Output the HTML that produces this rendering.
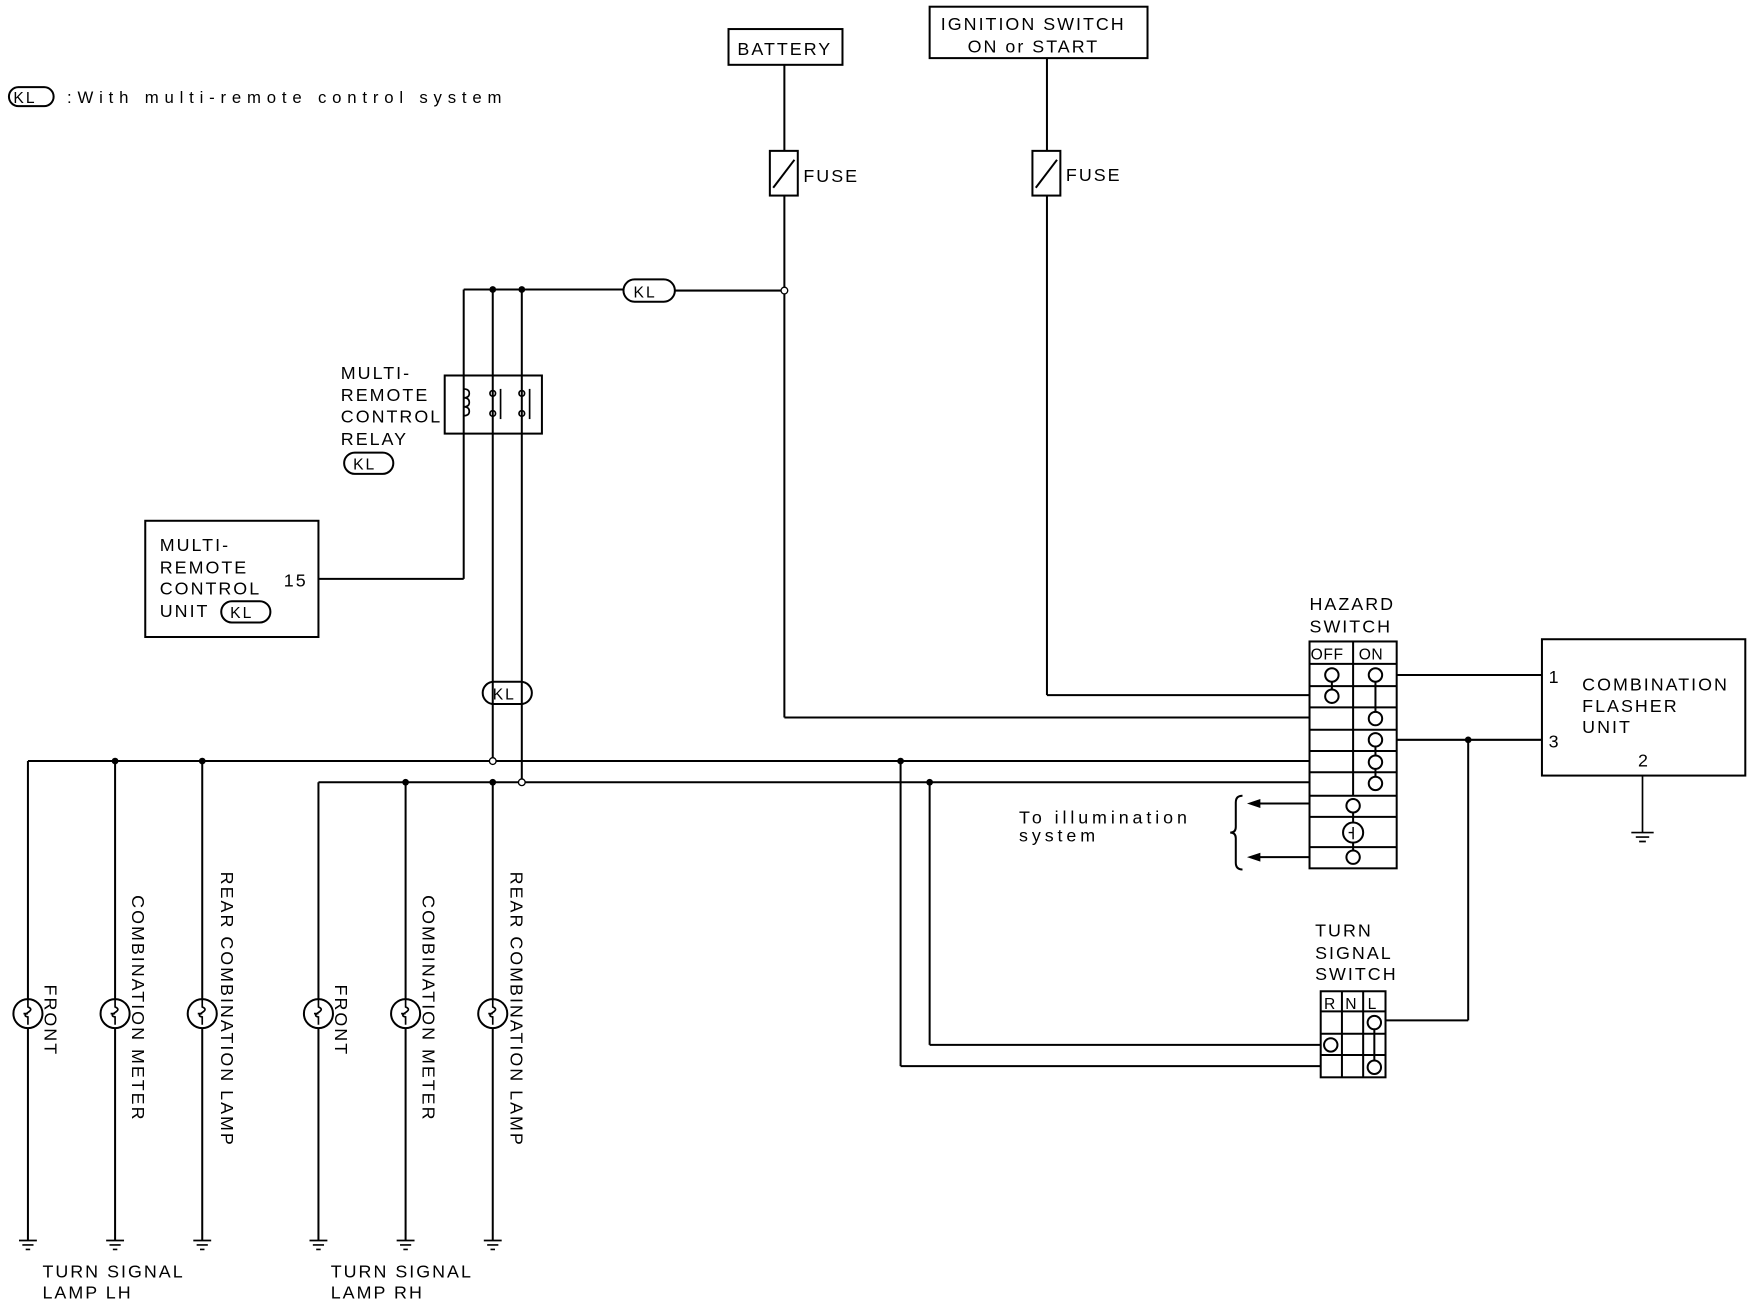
<!DOCTYPE html>
<html><head><meta charset="utf-8"><style>
html,body{margin:0;padding:0;background:#fff;}
svg{display:block}
text{font-family:"Liberation Sans",sans-serif;font-size:16px;fill:#000;letter-spacing:1.8px}
</style></head><body>
<svg width="1752" height="1312" viewBox="0 0 1568 1174" preserveAspectRatio="none" xmlns="http://www.w3.org/2000/svg">
<g fill="none" stroke="#000" stroke-width="1.8">
<rect x="8" y="78" width="40" height="17" rx="8.5"/>
<rect x="652" y="26" width="102" height="32"/>
<line x1="702" y1="58" x2="702" y2="135"/>
<rect x="689" y="135" width="25" height="40"/>
<line x1="692" y1="168" x2="711" y2="143"/>
<line x1="702" y1="175" x2="702" y2="642"/>
<line x1="702" y1="642" x2="1172" y2="642"/>
<line x1="702" y1="260" x2="604" y2="260"/>
<rect x="558" y="250" width="46" height="20" rx="10"/>
<line x1="558" y1="259" x2="415" y2="259"/>
<rect x="832" y="6" width="195" height="46"/>
<line x1="937" y1="52" x2="937" y2="135"/>
<rect x="924" y="135" width="25" height="40"/>
<line x1="927" y1="168" x2="946" y2="143"/>
<line x1="937" y1="175" x2="937" y2="622"/>
<line x1="937" y1="622" x2="1172" y2="622"/>
<rect x="398" y="336" width="87" height="52"/>
<line x1="415" y1="259" x2="415" y2="518"/>
<line x1="415" y1="518" x2="285" y2="518"/>
<line x1="441" y1="259" x2="441" y2="681"/>
<line x1="467" y1="259" x2="467" y2="700"/>
<rect x="308" y="405" width="44" height="19" rx="9.5"/>
<rect x="432" y="610" width="44" height="20" rx="10"/>
<rect x="130" y="466" width="155" height="104"/>
<rect x="198" y="538" width="44" height="19" rx="9.5"/>
<line x1="25" y1="681" x2="1172" y2="681"/>
<line x1="285" y1="700" x2="1172" y2="700"/>
<line x1="25" y1="681" x2="25" y2="1110"/>
<line x1="103" y1="681" x2="103" y2="1110"/>
<line x1="181" y1="681" x2="181" y2="1110"/>
<line x1="285" y1="700" x2="285" y2="1110"/>
<line x1="363" y1="700" x2="363" y2="1110"/>
<line x1="441" y1="700" x2="441" y2="1110"/>
<line x1="806" y1="681" x2="806" y2="954"/>
<line x1="806" y1="954" x2="1182" y2="954"/>
<line x1="832" y1="700" x2="832" y2="935"/>
<line x1="832" y1="935" x2="1182" y2="935"/>
<g fill="#fff">
<circle cx="25" cy="907" r="13"/><circle cx="103" cy="907" r="13"/><circle cx="181" cy="907" r="13"/>
<circle cx="285" cy="907" r="13"/><circle cx="363" cy="907" r="13"/><circle cx="441" cy="907" r="13"/>
</g>
<g stroke-width="1.5">
<path d="M25 894v7q5 2 0 5t0 4v7M21 907h4"/>
<path d="M103 894v7q5 2 0 5t0 4v7M99 907h4"/>
<path d="M181 894v7q5 2 0 5t0 4v7M177 907h4"/>
<path d="M285 894v7q5 2 0 5t0 4v7M281 907h4"/>
<path d="M363 894v7q5 2 0 5t0 4v7M359 907h4"/>
<path d="M441 894v7q5 2 0 5t0 4v7M437 907h4"/>
<path d="M17 1110h16M20 1114h10M23 1118h4"/>
<path d="M95 1110h16M98 1114h10M101 1118h4"/>
<path d="M173 1110h16M176 1114h10M179 1118h4"/>
<path d="M277 1110h16M280 1114h10M283 1118h4"/>
<path d="M355 1110h16M358 1114h10M361 1118h4"/>
<path d="M433 1110h16M436 1114h10M439 1118h4"/>
<path d="M1470 694v51M1460 745h20M1464 749h12M1467 753h6"/>
</g>
<rect x="1172" y="574" width="78" height="203"/>
<path d="M1172 594h78M1172 614h78M1172 633h78M1172 653h78M1172 672h78M1172 691h78M1172 712h78M1172 731h78M1172 758h78"/>
<line x1="1211" y1="574" x2="1211" y2="712"/>
<line x1="1192" y1="604" x2="1192" y2="623"/>
<line x1="1231" y1="604" x2="1231" y2="643"/>
<line x1="1231" y1="662" x2="1231" y2="701"/>
<line x1="1211" y1="721" x2="1211" y2="767"/>
<g fill="#fff">
<circle cx="1192" cy="604" r="6"/><circle cx="1192" cy="623" r="6"/>
<circle cx="1231" cy="604" r="6"/><circle cx="1231" cy="643" r="6"/>
<circle cx="1231" cy="662" r="6"/><circle cx="1231" cy="682" r="6"/><circle cx="1231" cy="701" r="6"/>
<circle cx="1211" cy="721" r="6"/><circle cx="1211" cy="745" r="9"/><circle cx="1211" cy="767" r="6"/>
</g>
<path d="M1207 745h4v-5M1211 745v6" stroke-width="1.3"/>
<line x1="1250" y1="604" x2="1380" y2="604"/>
<line x1="1250" y1="662" x2="1380" y2="662"/>
<line x1="1314" y1="662" x2="1314" y2="913"/>
<line x1="1314" y1="913" x2="1240" y2="913"/>
<line x1="1172" y1="719" x2="1126" y2="719"/>
<line x1="1172" y1="767" x2="1126" y2="767"/>
<path d="M1112 712q-6 0-6 6v22q0 5-5 5q5 0 5 5v22q0 6 6 6"/>
<rect x="1380" y="572" width="182" height="122"/>
<rect x="1182" y="887" width="58" height="77"/>
<path d="M1182 905h58M1182 925h58M1182 944h58M1201 887v77M1220 887v77"/>
<line x1="1230" y1="915" x2="1230" y2="955"/>
<g fill="#fff">
<circle cx="1230" cy="915" r="6"/><circle cx="1230" cy="955" r="6"/><circle cx="1191" cy="935" r="6"/>
</g>
</g>
<path d="M1116 719l12-4v8z M1116 767l12-4v8z" fill="#000"/>
<g fill="#000">
<circle cx="441" cy="259" r="3"/><circle cx="467" cy="259" r="3"/>
<circle cx="103" cy="681" r="3"/><circle cx="181" cy="681" r="3"/>
<circle cx="806" cy="681" r="3"/><circle cx="363" cy="700" r="3"/>
<circle cx="441" cy="700" r="3"/><circle cx="832" cy="700" r="3"/>
<circle cx="1314" cy="662" r="3"/>
</g>
<g fill="#fff" stroke="#000" stroke-width="1.2">
<circle cx="702" cy="260" r="3"/><circle cx="441" cy="681" r="3"/><circle cx="467" cy="700" r="3"/>
</g>
<g fill="none" stroke="#000" stroke-width="1.5">
<path d="M415 348q5 0 5 4q0 4-5 4q5 0 5 4q0 4-5 4q5 0 5 4q0 4-5 4"/>
<circle cx="441" cy="352" r="2.5"/><circle cx="441" cy="370" r="2.5"/>
<line x1="448" y1="348" x2="448" y2="375"/>
<circle cx="467" cy="352" r="2.5"/><circle cx="467" cy="370" r="2.5"/>
<line x1="474" y1="348" x2="474" y2="375"/>
</g>
<text x="12" y="92" style="font-size:14px">KL</text>
<text x="60" y="92" style="font-size:15px;letter-spacing:5.2px">:With multi-remote control system</text>
<text x="660" y="49">BATTERY</text>
<text x="842" y="27">IGNITION SWITCH</text>
<text x="866" y="47">ON or START</text>
<text x="719" y="163">FUSE</text>
<text x="954" y="162">FUSE</text>
<text x="567" y="266" style="font-size:14px">KL</text>
<text x="305" y="339">MULTI-</text>
<text x="305" y="359">REMOTE</text>
<text x="305" y="378">CONTROL</text>
<text x="305" y="398">RELAY</text>
<text x="316" y="420" style="font-size:14px">KL</text>
<text x="441" y="626" style="font-size:14px">KL</text>
<text x="143" y="493">MULTI-</text>
<text x="143" y="513">REMOTE</text>
<text x="143" y="532">CONTROL</text>
<text x="143" y="552">UNIT</text>
<text x="206" y="553" style="font-size:14px">KL</text>
<text x="254" y="525">15</text>
<text x="1172" y="546">HAZARD</text>
<text x="1172" y="566">SWITCH</text>
<text x="1173" y="590" style="font-size:14px;letter-spacing:0.5px">OFF</text>
<text x="1216" y="590" style="font-size:14px;letter-spacing:0.5px">ON</text>
<text x="912" y="737" style="letter-spacing:3.5px">To illumination</text>
<text x="912" y="753" style="letter-spacing:3.5px">system</text>
<text x="1386" y="611">1</text>
<text x="1386" y="669">3</text>
<text x="1466" y="686">2</text>
<text x="1416" y="618">COMBINATION</text>
<text x="1416" y="637">FLASHER</text>
<text x="1416" y="656">UNIT</text>
<text x="1177" y="838">TURN</text>
<text x="1177" y="858">SIGNAL</text>
<text x="1177" y="877">SWITCH</text>
<text x="1185" y="903" style="font-size:14px;letter-spacing:0">R</text>
<text x="1204" y="903" style="font-size:14px;letter-spacing:0">N</text>
<text x="1224" y="903" style="font-size:14px;letter-spacing:0">L</text>
<text x="38" y="1143">TURN SIGNAL</text>
<text x="38" y="1162">LAMP LH</text>
<text x="296" y="1143">TURN SIGNAL</text>
<text x="296" y="1162">LAMP RH</text>
<text transform="translate(40,881) rotate(90)">FRONT</text>
<text transform="translate(118,801) rotate(90)">COMBINATION METER</text>
<text transform="translate(198,780) rotate(90)">REAR COMBINATION LAMP</text>
<text transform="translate(300,881) rotate(90)">FRONT</text>
<text transform="translate(378,801) rotate(90)">COMBINATION METER</text>
<text transform="translate(457,780) rotate(90)">REAR COMBINATION LAMP</text>
</svg>
</body></html>
